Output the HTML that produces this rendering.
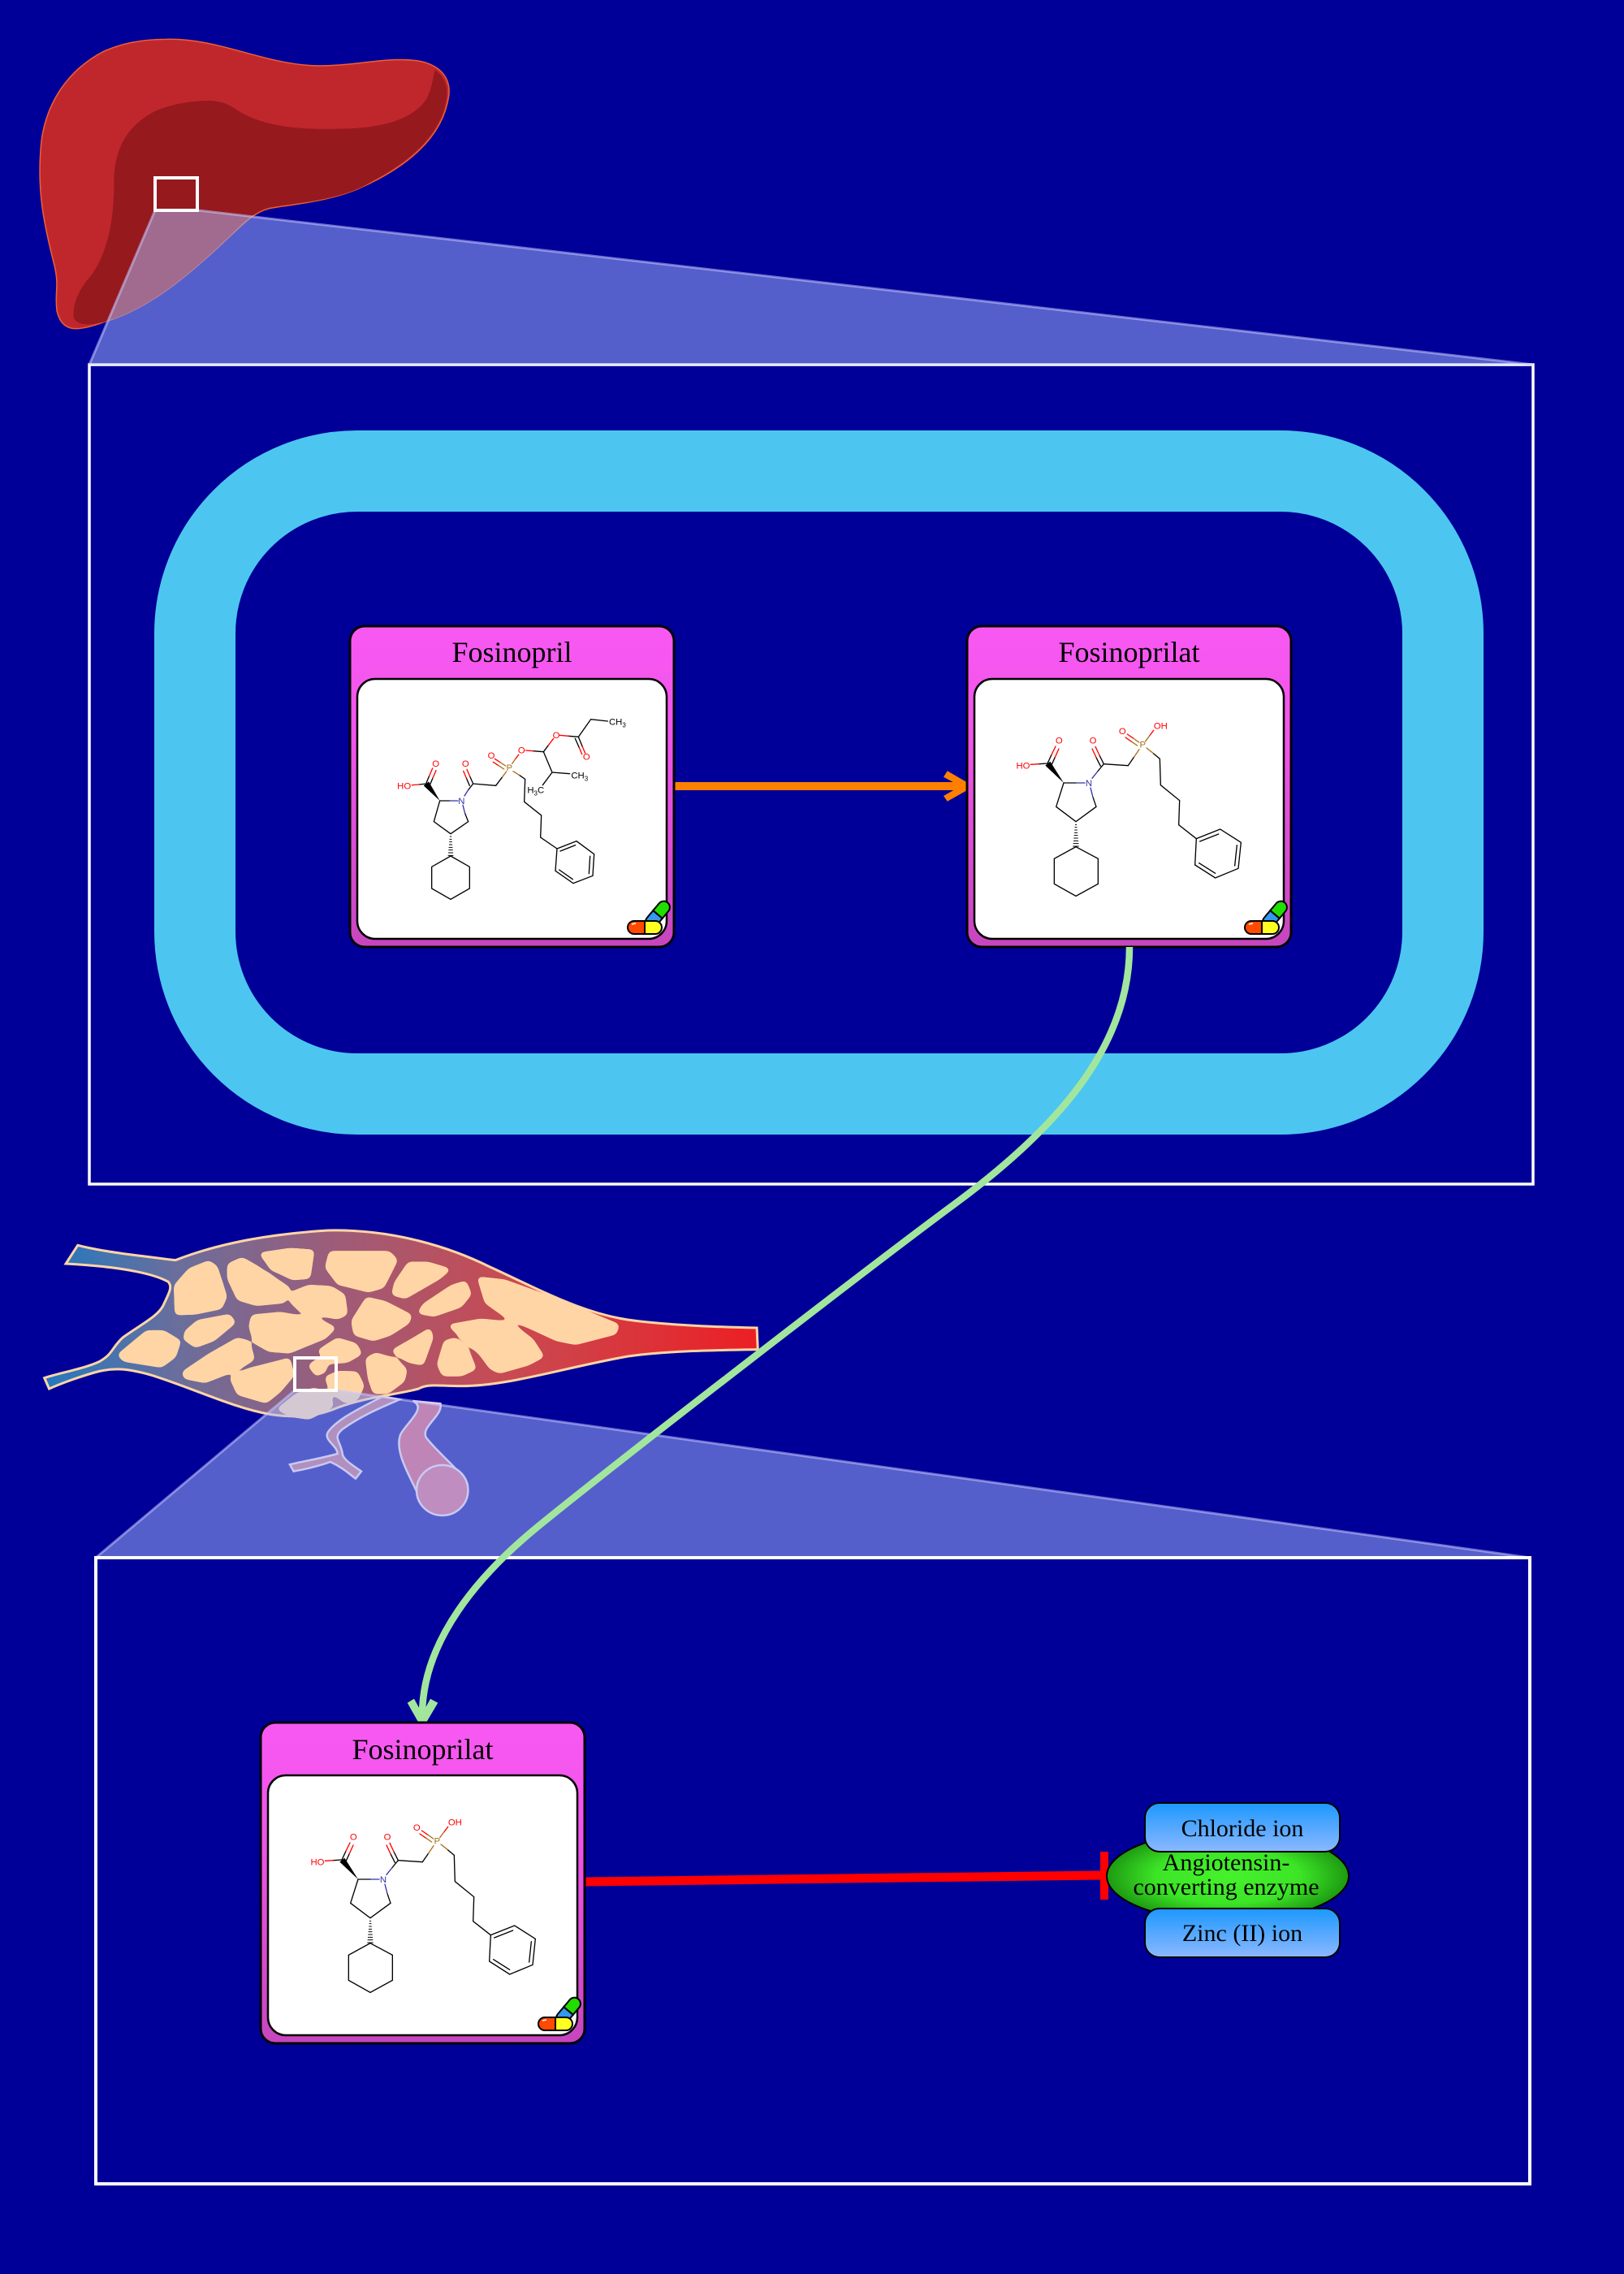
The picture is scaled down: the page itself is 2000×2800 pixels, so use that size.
<!DOCTYPE html>
<html>
<head>
<meta charset="utf-8">
<style>
html,body{margin:0;padding:0;background:#000099;}
svg{display:block;}
</style>
</head>
<body>
<svg width="2000" height="2800" viewBox="0 0 2000 2800" xmlns="http://www.w3.org/2000/svg">
<defs>
  <linearGradient id="boxg" x1="0" y1="0" x2="0" y2="1">
    <stop offset="0" stop-color="#F858F2"/>
    <stop offset="0.35" stop-color="#F055EA"/>
    <stop offset="1" stop-color="#C646BE"/>
  </linearGradient>
  <linearGradient id="iong" x1="0" y1="0" x2="0" y2="1">
    <stop offset="0" stop-color="#1C98FF"/>
    <stop offset="1" stop-color="#8CB8FF"/>
  </linearGradient>
  <radialGradient id="aceg" cx="0.5" cy="0.5" r="0.5">
    <stop offset="0" stop-color="#46F22C"/>
    <stop offset="0.6" stop-color="#3CE426"/>
    <stop offset="1" stop-color="#1E9A12"/>
  </radialGradient>
  <linearGradient id="lobg" gradientUnits="userSpaceOnUse" x1="0" y1="0" x2="1522" y2="0">
    <stop offset="0" stop-color="#1C7AC4"/>
    <stop offset="0.2" stop-color="#6A6E9C"/>
    <stop offset="0.42" stop-color="#9E5C78"/>
    <stop offset="0.66" stop-color="#C84A52"/>
    <stop offset="1" stop-color="#EC1F24"/>
  </linearGradient>
  <filter id="goo" x="0" y="1450" width="1000" height="400" filterUnits="userSpaceOnUse">
    <feGaussianBlur in="SourceGraphic" stdDeviation="3.2"/>
    <feColorMatrix type="matrix" values="1 0 0 0 0  0 1 0 0 0  0 0 1 0 0  0 0 0 24 -11"/>
  </filter>
</defs>

<rect x="0" y="0" width="2000" height="2800" fill="#000099"/>

<!-- ============ TOP PANEL ============ -->
<rect x="110" y="449" width="1778" height="1009" fill="none" stroke="#ffffff" stroke-width="3.5"/>
<rect x="240" y="580" width="1537" height="767" rx="200" ry="200" fill="none" stroke="#4CC6F0" stroke-width="100"/>

<!-- LIVER -->
<g transform="scale(0.6378,0.33333)">
  <path d="M 320,145 C 420,140 500,230 600,242 C 680,250 760,200 820,230 C 870,260 870,330 865,370 C 850,520 780,620 700,690 C 640,745 560,755 520,770 C 480,790 460,850 400,950 C 330,1070 270,1150 200,1190 C 150,1225 120,1230 110,1150 C 105,1080 115,1060 105,980 C 85,830 70,700 80,520 C 90,380 130,260 200,190 C 240,155 280,145 320,145 Z" fill="#C0272D" stroke="#F06030" stroke-width="1.5" vector-effect="non-scaling-stroke"/>
  <path d="M 400,372 C 440,372 450,400 470,420 C 520,470 580,478 650,476 C 740,475 800,440 825,360 C 835,320 835,290 840,258 C 870,300 865,360 855,420 C 830,540 770,620 700,690 C 640,745 560,752 520,767 C 480,787 460,850 400,950 C 330,1070 270,1150 200,1190 C 170,1205 145,1200 142,1170 C 140,1110 160,1050 175,1020 C 210,930 220,800 220,680 C 220,560 240,470 300,410 C 330,385 370,372 400,372 Z" fill="#96191E"/>
</g>

<!-- trapezoid 1 -->
<polygon points="191,259 244,259 1888,449 110,449" fill="rgb(170,190,255)" fill-opacity="0.5"/>
<line x1="244" y1="259" x2="1888" y2="449" stroke="#C8C8FF" stroke-opacity="0.55" stroke-width="3"/>
<line x1="191" y1="259" x2="110" y2="449" stroke="#C8C8FF" stroke-opacity="0.55" stroke-width="3"/>
<rect x="191" y="219" width="52" height="40" fill="none" stroke="#ffffff" stroke-width="4"/>

<!-- orange arrow -->
<line x1="830" y1="968" x2="1186" y2="968" stroke="#FF8000" stroke-width="10"/>
<polygon points="1162,956.7 1166.7,949.3 1199.5,968.3 1166.7,986.7 1162,980 1183,968" fill="#FF8000"/>

<!-- ===== Fosinopril box ===== -->
<g transform="translate(431,771)">
  <rect x="0" y="0" width="399" height="395" rx="18" fill="url(#boxg)" stroke="#000" stroke-width="3"/>
  <rect x="9" y="65" width="381" height="320" rx="22" fill="#ffffff" stroke="#000" stroke-width="2.5"/>
  <text x="199.5" y="44" font-family="Liberation Serif, serif" font-size="36" text-anchor="middle" fill="#000">Fosinopril</text>
  <g transform="translate(342,363)">
    <g transform="translate(37,-8) rotate(-50)">
      <path d="M 0,-7.5 L 11.5,-7.5 A 7.5,7.5 0 0 1 11.5,7.5 L 0,7.5 Z" fill="#22DD00" stroke="#000" stroke-width="2"/>
      <path d="M 0,-7.5 L -11.5,-7.5 A 7.5,7.5 0 0 0 -11.5,7.5 L 0,7.5 Z" fill="#3399EE" stroke="#000" stroke-width="2"/>
    </g>
    <path d="M 21,0 L 8,0 A 8,8 0 0 0 8,16 L 21,16 Z" fill="#FF4A00" stroke="#000" stroke-width="2"/>
    <path d="M 21,0 L 34,0 A 8,8 0 0 1 34,16 L 21,16 Z" fill="#FFFF22" stroke="#000" stroke-width="2"/>
    <path d="M 5,4 L 10,3" stroke="#fff" stroke-width="1.5"/>
  </g>
</g>
<!-- Fosinopril molecule (zoom coords) -->
<g transform="translate(400,750) scale(0.33333)" fill="none" stroke-width="4" stroke-linecap="round" font-family="Liberation Sans, sans-serif">
  <g stroke="#000">
    <line x1="348" y1="648" x2="375" y2="645"/>
    <line x1="375" y1="642" x2="386" y2="616"/>
    <line x1="388" y1="650" x2="399" y2="624"/>
    <polyline points="425,708 462,708"/>
    <polyline points="518,755 530,785 465,830 403,785 425,708"/>
    <polygon points="465,912 535,952 535,1032 465,1072 395,1032 395,952"/>
    <line x1="530" y1="668" x2="548" y2="645"/>
    <line x1="548" y1="645" x2="536" y2="618"/>
    <line x1="535" y1="652" x2="523" y2="624"/>
    <line x1="548" y1="645" x2="632" y2="652"/>
    <line x1="632" y1="652" x2="656" y2="620"/>
    <line x1="770" y1="524" x2="808" y2="527"/>
    <line x1="808" y1="527" x2="826" y2="503"/>
    <line x1="900" y1="469" x2="937" y2="472"/>
    <line x1="937" y1="472" x2="952" y2="508"/>
    <line x1="925" y1="478" x2="940" y2="512"/>
    <polyline points="937,472 983,407 1045,414"/>
    <polyline points="808,527 840,603 905,608"/>
    <line x1="840" y1="603" x2="805" y2="650"/>
    <polyline points="718,613 740,628 737,712 800,762 797,843 858,885"/>
    <polygon points="858,885 930,857 995,905 990,985 918,1013 852,967"/>
    <line x1="870" y1="894" x2="926" y2="872"/>
    <line x1="980" y1="913" x2="976" y2="977"/>
    <line x1="916" y1="998" x2="866" y2="963"/>
  </g>
  <g stroke="#FF0000">
    <line x1="322" y1="650" x2="348" y2="648"/>
    <line x1="386" y1="616" x2="398" y2="588"/>
    <line x1="399" y1="624" x2="411" y2="596"/>
    <line x1="536" y1="618" x2="525" y2="592"/>
    <line x1="523" y1="624" x2="512" y2="598"/>
    <line x1="703" y1="555" x2="716" y2="538"/>
    <line x1="742" y1="522" x2="770" y2="524"/>
    <line x1="826" y1="503" x2="845" y2="478"/>
    <line x1="868" y1="466" x2="900" y2="469"/>
    <line x1="952" y1="508" x2="962" y2="532"/>
    <line x1="940" y1="512" x2="950" y2="536"/>
    <line x1="648" y1="566" x2="628" y2="553"/>
    <line x1="642" y1="578" x2="622" y2="565"/>
  </g>
  <g stroke="#3333AA">
    <line x1="462" y1="708" x2="492" y2="708"/>
    <line x1="510" y1="724" x2="518" y2="755"/>
    <line x1="516" y1="690" x2="530" y2="668"/>
  </g>
  <g stroke="#A87018">
    <line x1="656" y1="620" x2="671" y2="600"/>
    <line x1="692" y1="571" x2="703" y2="555"/>
    <line x1="668" y1="579" x2="648" y2="566"/>
    <line x1="662" y1="591" x2="642" y2="578"/>
    <line x1="696" y1="599" x2="718" y2="613"/>
  </g>
  <polygon points="425,708 365,652 384,637" fill="#000" stroke="none"/>
  <g stroke="#000" stroke-width="3">
    <line x1="463" y1="840" x2="467" y2="840"/>
    <line x1="462" y1="850" x2="468" y2="850"/>
    <line x1="461" y1="860" x2="469" y2="860"/>
    <line x1="460" y1="870" x2="470" y2="870"/>
    <line x1="459" y1="880" x2="471" y2="880"/>
    <line x1="458" y1="890" x2="472" y2="890"/>
    <line x1="457" y1="900" x2="473" y2="900"/>
    <line x1="456" y1="910" x2="474" y2="910"/>
  </g>
  <g stroke="none" font-size="34" text-anchor="middle">
    <text x="293" y="664" fill="#FF0000">HO</text>
    <text x="410" y="582" fill="#FF0000">O</text>
    <text x="520" y="582" fill="#FF0000">O</text>
    <text x="505" y="720" fill="#3333AA">N</text>
    <text x="682" y="597" fill="#A87018">P</text>
    <text x="615" y="552" fill="#FF0000">O</text>
    <text x="727" y="532" fill="#FF0000">O</text>
    <text x="855" y="477" fill="#FF0000">O</text>
    <text x="967" y="557" fill="#FF0000">O</text>
    <text x="1050" y="428" fill="#000" text-anchor="start">CH<tspan font-size="24" dy="8">3</tspan></text>
    <text x="910" y="626" fill="#000" text-anchor="start">CH<tspan font-size="24" dy="8">3</tspan></text>
    <text x="748" y="680" fill="#000" text-anchor="start">H<tspan font-size="24" dy="8">3</tspan><tspan dy="-8">C</tspan></text>
  </g>
</g>

<!-- ===== Fosinoprilat top box ===== -->
<g transform="translate(1191,771)">
  <rect x="0" y="0" width="399" height="395" rx="18" fill="url(#boxg)" stroke="#000" stroke-width="3"/>
  <rect x="9" y="65" width="381" height="320" rx="22" fill="#ffffff" stroke="#000" stroke-width="2.5"/>
  <text x="199.5" y="44" font-family="Liberation Serif, serif" font-size="36" text-anchor="middle" fill="#000">Fosinoprilat</text>
  <g transform="translate(342,363)">
    <g transform="translate(37,-8) rotate(-50)">
      <path d="M 0,-7.5 L 11.5,-7.5 A 7.5,7.5 0 0 1 11.5,7.5 L 0,7.5 Z" fill="#22DD00" stroke="#000" stroke-width="2"/>
      <path d="M 0,-7.5 L -11.5,-7.5 A 7.5,7.5 0 0 0 -11.5,7.5 L 0,7.5 Z" fill="#3399EE" stroke="#000" stroke-width="2"/>
    </g>
    <path d="M 21,0 L 8,0 A 8,8 0 0 0 8,16 L 21,16 Z" fill="#FF4A00" stroke="#000" stroke-width="2"/>
    <path d="M 21,0 L 34,0 A 8,8 0 0 1 34,16 L 21,16 Z" fill="#FFFF22" stroke="#000" stroke-width="2"/>
    <path d="M 5,4 L 10,3" stroke="#fff" stroke-width="1.5"/>
  </g>
</g>
<g transform="translate(1180,750) scale(0.33333)" fill="none" stroke-width="4" stroke-linecap="round" font-family="Liberation Sans, sans-serif">
  <g stroke="#000">
    <line x1="298" y1="572" x2="330" y2="570"/>
    <line x1="330" y1="570" x2="345" y2="538"/>
    <line x1="344" y1="578" x2="358" y2="547"/>
    <line x1="390" y1="642" x2="437" y2="642"/>
    <polyline points="498,695 510,730 435,785 362,730 390,642"/>
    <polygon points="435,878 517,922 517,1015 435,1060 355,1015 355,922"/>
    <line x1="515" y1="600" x2="538" y2="572"/>
    <line x1="538" y1="572" x2="522" y2="540"/>
    <line x1="526" y1="580" x2="510" y2="548"/>
    <line x1="538" y1="572" x2="628" y2="578"/>
    <line x1="628" y1="578" x2="650" y2="546"/>
    <polyline points="720,532 745,553 748,650 818,707 815,797 880,848"/>
    <polygon points="880,848 968,813 1045,862 1035,958 950,993 875,945"/>
    <line x1="893" y1="858" x2="962" y2="831"/>
    <line x1="1030" y1="872" x2="1022" y2="948"/>
    <line x1="890" y1="938" x2="950" y2="976"/>
  </g>
  <g stroke="#FF0000">
    <line x1="268" y1="574" x2="298" y2="572"/>
    <line x1="345" y1="538" x2="360" y2="507"/>
    <line x1="358" y1="547" x2="372" y2="516"/>
    <line x1="522" y1="540" x2="507" y2="508"/>
    <line x1="510" y1="548" x2="495" y2="516"/>
    <line x1="648" y1="478" x2="625" y2="462"/>
    <line x1="641" y1="490" x2="618" y2="474"/>
    <line x1="707" y1="468" x2="722" y2="448"/>
  </g>
  <g stroke="#3333AA">
    <line x1="437" y1="642" x2="468" y2="642"/>
    <line x1="489" y1="660" x2="498" y2="695"/>
    <line x1="495" y1="625" x2="515" y2="600"/>
  </g>
  <g stroke="#A87018">
    <line x1="650" y1="546" x2="669" y2="518"/>
    <line x1="668" y1="492" x2="648" y2="478"/>
    <line x1="662" y1="504" x2="641" y2="490"/>
    <line x1="692" y1="488" x2="707" y2="468"/>
    <line x1="696" y1="513" x2="720" y2="532"/>
  </g>
  <polygon points="390,642 322,578 340,563" fill="#000" stroke="none"/>
  <g stroke="#000" stroke-width="3">
    <line x1="433" y1="796" x2="437" y2="796"/>
    <line x1="432" y1="806" x2="438" y2="806"/>
    <line x1="431" y1="816" x2="439" y2="816"/>
    <line x1="430" y1="826" x2="440" y2="826"/>
    <line x1="429" y1="836" x2="441" y2="836"/>
    <line x1="428" y1="846" x2="442" y2="846"/>
    <line x1="427" y1="856" x2="443" y2="856"/>
    <line x1="426" y1="866" x2="444" y2="866"/>
    <line x1="425" y1="876" x2="445" y2="876"/>
  </g>
  <g stroke="none" font-size="34" text-anchor="middle">
    <text x="240" y="590" fill="#FF0000">HO</text>
    <text x="373" y="497" fill="#FF0000">O</text>
    <text x="498" y="497" fill="#FF0000">O</text>
    <text x="483" y="654" fill="#3333AA">N</text>
    <text x="682" y="512" fill="#A87018">P</text>
    <text x="607" y="462" fill="#FF0000">O</text>
    <text x="748" y="442" fill="#FF0000">OH</text>
  </g>
</g>

<!-- ============ LOBULE ============ -->
<g transform="translate(40,1480) scale(0.58689,0.33333)">
  <!-- tube and branch -->
  <path d="M 798,735 C 830,760 782,820 772,860 C 760,920 788,1000 805,1065 L 912,1040 C 892,980 852,930 826,870 C 814,830 862,790 856,745 Z" fill="#D24C6C" stroke="#E6D6E6" stroke-width="2.5" vector-effect="non-scaling-stroke"/>
  <ellipse cx="860" cy="1065" rx="54" ry="93" fill="#D55C80" stroke="#E6D6E6" stroke-width="2.5" vector-effect="non-scaling-stroke"/>
  <path d="M 735,718 C 690,760 640,800 620,850 C 610,880 640,900 640,930 C 600,950 560,960 540,970 L 548,995 C 580,985 610,970 625,960 C 650,980 665,1005 678,1022 L 690,995 C 670,970 650,950 650,925 C 645,880 630,870 650,840 C 690,790 730,760 770,730 Z" fill="#B8607C" stroke="#E6D6E6" stroke-width="2.5" vector-effect="non-scaling-stroke"/>
  <!-- body -->
  <path d="M 95,160 C 150,185 230,200 300,215 C 380,160 480,120 620,105 C 760,100 880,170 960,240 C 1060,320 1160,420 1270,440 C 1360,458 1450,462 1520,465 L 1522,545 C 1420,548 1330,550 1250,570 C 1120,610 1000,680 900,680 C 850,680 830,670 810,690 C 770,710 700,720 640,760 C 600,790 560,800 500,785 C 420,760 340,690 250,640 C 200,615 170,610 130,630 C 100,645 60,670 35,690 L 25,650 C 60,630 110,615 140,590 C 170,560 165,540 190,500 C 230,450 265,420 275,380 C 285,340 295,315 285,295 C 260,270 200,240 70,228 Z" fill="url(#lobg)" stroke="#FFD5A5" stroke-width="3" vector-effect="non-scaling-stroke"/>
</g>
<g filter="url(#goo)">
<g transform="translate(40,1480) scale(0.58689,0.33333)">
  <g fill="#FFD5A5" stroke="#FFD5A5" stroke-width="4" stroke-linejoin="round">
    <polygon vector-effect="non-scaling-stroke" points="300,310 330,250 370,222 385,240 405,350 395,390 340,410 302,412"/>
    <polygon vector-effect="non-scaling-stroke" points="412,232 440,210 470,240 538,320 528,368 470,378 432,358 412,282"/>
    <polygon vector-effect="non-scaling-stroke" points="480,192 540,176 588,182 580,278 546,283 502,245"/>
    <polygon vector-effect="non-scaling-stroke" points="625,187 748,187 763,215 735,313 705,328 642,300 617,242"/>
    <polygon vector-effect="non-scaling-stroke" points="547,335 580,312 625,316 653,345 658,413 640,428 562,400 542,366"/>
    <polygon vector-effect="non-scaling-stroke" points="790,227 830,227 873,250 853,280 782,352 757,340 762,300"/>
    <polygon vector-effect="non-scaling-stroke" points="822,380 880,312 908,297 918,340 898,384 842,418 812,408"/>
    <polygon vector-effect="non-scaling-stroke" points="937,282 990,292 1100,362 1228,455 1223,484 1140,522 1100,508 992,420 952,370"/>
    <polygon vector-effect="non-scaling-stroke" points="672,440 702,357 740,372 793,420 788,445 750,488 715,508 677,488"/>
    <polygon vector-effect="non-scaling-stroke" points="462,422 520,412 600,437 633,466 613,500 540,553 497,548 467,518 457,460"/>
    <polygon vector-effect="non-scaling-stroke" points="322,480 347,442 413,420 423,445 380,508 342,533 320,505"/>
    <polygon vector-effect="non-scaling-stroke" points="182,565 240,480 275,480 308,515 298,570 270,606 192,584"/>
    <polygon vector-effect="non-scaling-stroke" points="317,630 370,567 430,507 453,517 463,580 420,623 362,663 320,648"/>
    <polygon vector-effect="non-scaling-stroke" points="417,650 460,617 538,582 546,640 518,698 490,738 432,708"/>
    <polygon vector-effect="non-scaling-stroke" points="602,550 640,507 678,527 688,560 660,588 622,593"/>
    <polygon vector-effect="non-scaling-stroke" points="757,550 800,507 833,472 838,500 818,598 790,588"/>
    <polygon vector-effect="non-scaling-stroke" points="877,457 940,437 1000,447 1048,510 1070,570 1040,598 980,628 962,613 940,560 902,500"/>
    <polygon vector-effect="non-scaling-stroke" points="852,600 866,517 885,507 913,550 928,615 900,638 862,638"/>
    <polygon vector-effect="non-scaling-stroke" points="702,580 720,562 760,582 783,620 778,660 745,703 717,703 707,650"/>
    <polygon vector-effect="non-scaling-stroke" points="617,650 640,630 680,632 693,680 680,728 657,738 627,700"/>
    <polygon vector-effect="non-scaling-stroke" points="582,605 600,582 618,592 613,623 596,638"/>
    <polygon vector-effect="non-scaling-stroke" points="517,765 555,712 590,692 623,707 628,755 580,798 542,788"/>
  </g>
</g>
</g>

<!-- trapezoid 2 -->
<polygon points="363,1712 414,1712 1884,1918 118,1918" fill="rgb(170,190,255)" fill-opacity="0.5"/>
<line x1="414" y1="1712" x2="1884" y2="1918" stroke="#C8C8FF" stroke-opacity="0.55" stroke-width="3"/>
<line x1="363" y1="1712" x2="118" y2="1918" stroke="#C8C8FF" stroke-opacity="0.55" stroke-width="3"/>
<rect x="363" y="1672" width="51" height="40" fill="none" stroke="#ffffff" stroke-width="4"/>

<!-- ============ BOTTOM PANEL ============ -->
<rect x="118" y="1918" width="1766" height="771" fill="none" stroke="#ffffff" stroke-width="4"/>

<!-- green curve -->
<path d="M 1391,1166 C 1391,1290 1300,1390 1179,1480 C 1080,1553 760,1800 662,1880 C 590,1939 520,2020 520,2112" fill="none" stroke="#A2E69E" stroke-width="8.5"/>
<polygon points="501.7,2096.7 510,2091.7 520,2110 530,2091.7 539.3,2096.7 520,2129.3" fill="#A2E69E"/>

<!-- red inhibition -->
<line x1="720" y1="2317" x2="1358" y2="2309" stroke="#FF0000" stroke-width="11"/>
<rect x="1355" y="2280" width="10" height="59" fill="#FF0000"/>

<!-- ACE -->
<ellipse cx="1512" cy="2310" rx="149" ry="56" fill="url(#aceg)" stroke="#000" stroke-width="2"/>
<text x="1510" y="2303" font-family="Liberation Serif, serif" font-size="30" text-anchor="middle" fill="#000">Angiotensin-</text>
<text x="1510" y="2333" font-family="Liberation Serif, serif" font-size="30" text-anchor="middle" fill="#000">converting enzyme</text>
<rect x="1410" y="2220" width="240" height="60" rx="18" fill="url(#iong)" stroke="#000" stroke-width="2"/>
<text x="1530" y="2261" font-family="Liberation Serif, serif" font-size="30" text-anchor="middle" fill="#000">Chloride ion</text>
<rect x="1410" y="2350" width="240" height="60" rx="18" fill="url(#iong)" stroke="#000" stroke-width="2"/>
<text x="1530" y="2390" font-family="Liberation Serif, serif" font-size="30" text-anchor="middle" fill="#000">Zinc (II) ion</text>

<!-- ===== Fosinoprilat bottom box ===== -->
<g transform="translate(321,2121)">
  <rect x="0" y="0" width="399" height="395" rx="18" fill="url(#boxg)" stroke="#000" stroke-width="3"/>
  <rect x="9" y="65" width="381" height="320" rx="22" fill="#ffffff" stroke="#000" stroke-width="2.5"/>
  <text x="199.5" y="45" font-family="Liberation Serif, serif" font-size="36" text-anchor="middle" fill="#000">Fosinoprilat</text>
  <g transform="translate(342,363)">
    <g transform="translate(37,-8) rotate(-50)">
      <path d="M 0,-7.5 L 11.5,-7.5 A 7.5,7.5 0 0 1 11.5,7.5 L 0,7.5 Z" fill="#22DD00" stroke="#000" stroke-width="2"/>
      <path d="M 0,-7.5 L -11.5,-7.5 A 7.5,7.5 0 0 0 -11.5,7.5 L 0,7.5 Z" fill="#3399EE" stroke="#000" stroke-width="2"/>
    </g>
    <path d="M 21,0 L 8,0 A 8,8 0 0 0 8,16 L 21,16 Z" fill="#FF4A00" stroke="#000" stroke-width="2"/>
    <path d="M 21,0 L 34,0 A 8,8 0 0 1 34,16 L 21,16 Z" fill="#FFFF22" stroke="#000" stroke-width="2"/>
    <path d="M 5,4 L 10,3" stroke="#fff" stroke-width="1.5"/>
  </g>
</g>
<g transform="translate(311,2100) scale(0.33333)" fill="none" stroke-width="4" stroke-linecap="round" font-family="Liberation Sans, sans-serif">
  <g stroke="#000">
    <line x1="298" y1="572" x2="330" y2="570"/>
    <line x1="330" y1="570" x2="345" y2="538"/>
    <line x1="344" y1="578" x2="358" y2="547"/>
    <line x1="390" y1="642" x2="437" y2="642"/>
    <polyline points="498,695 510,730 435,785 362,730 390,642"/>
    <polygon points="435,878 517,922 517,1015 435,1060 355,1015 355,922"/>
    <line x1="515" y1="600" x2="538" y2="572"/>
    <line x1="538" y1="572" x2="522" y2="540"/>
    <line x1="526" y1="580" x2="510" y2="548"/>
    <line x1="538" y1="572" x2="628" y2="578"/>
    <line x1="628" y1="578" x2="650" y2="546"/>
    <polyline points="720,532 745,553 748,650 818,707 815,797 880,848"/>
    <polygon points="880,848 968,813 1045,862 1035,958 950,993 875,945"/>
    <line x1="893" y1="858" x2="962" y2="831"/>
    <line x1="1030" y1="872" x2="1022" y2="948"/>
    <line x1="890" y1="938" x2="950" y2="976"/>
  </g>
  <g stroke="#FF0000">
    <line x1="268" y1="574" x2="298" y2="572"/>
    <line x1="345" y1="538" x2="360" y2="507"/>
    <line x1="358" y1="547" x2="372" y2="516"/>
    <line x1="522" y1="540" x2="507" y2="508"/>
    <line x1="510" y1="548" x2="495" y2="516"/>
    <line x1="648" y1="478" x2="625" y2="462"/>
    <line x1="641" y1="490" x2="618" y2="474"/>
    <line x1="707" y1="468" x2="722" y2="448"/>
  </g>
  <g stroke="#3333AA">
    <line x1="437" y1="642" x2="468" y2="642"/>
    <line x1="489" y1="660" x2="498" y2="695"/>
    <line x1="495" y1="625" x2="515" y2="600"/>
  </g>
  <g stroke="#A87018">
    <line x1="650" y1="546" x2="669" y2="518"/>
    <line x1="668" y1="492" x2="648" y2="478"/>
    <line x1="662" y1="504" x2="641" y2="490"/>
    <line x1="692" y1="488" x2="707" y2="468"/>
    <line x1="696" y1="513" x2="720" y2="532"/>
  </g>
  <polygon points="390,642 322,578 340,563" fill="#000" stroke="none"/>
  <g stroke="#000" stroke-width="3">
    <line x1="433" y1="796" x2="437" y2="796"/>
    <line x1="432" y1="806" x2="438" y2="806"/>
    <line x1="431" y1="816" x2="439" y2="816"/>
    <line x1="430" y1="826" x2="440" y2="826"/>
    <line x1="429" y1="836" x2="441" y2="836"/>
    <line x1="428" y1="846" x2="442" y2="846"/>
    <line x1="427" y1="856" x2="443" y2="856"/>
    <line x1="426" y1="866" x2="444" y2="866"/>
    <line x1="425" y1="876" x2="445" y2="876"/>
  </g>
  <g stroke="none" font-size="34" text-anchor="middle">
    <text x="240" y="590" fill="#FF0000">HO</text>
    <text x="373" y="497" fill="#FF0000">O</text>
    <text x="498" y="497" fill="#FF0000">O</text>
    <text x="483" y="654" fill="#3333AA">N</text>
    <text x="682" y="512" fill="#A87018">P</text>
    <text x="607" y="462" fill="#FF0000">O</text>
    <text x="748" y="442" fill="#FF0000">OH</text>
  </g>
</g>

</svg>
</body>
</html>
